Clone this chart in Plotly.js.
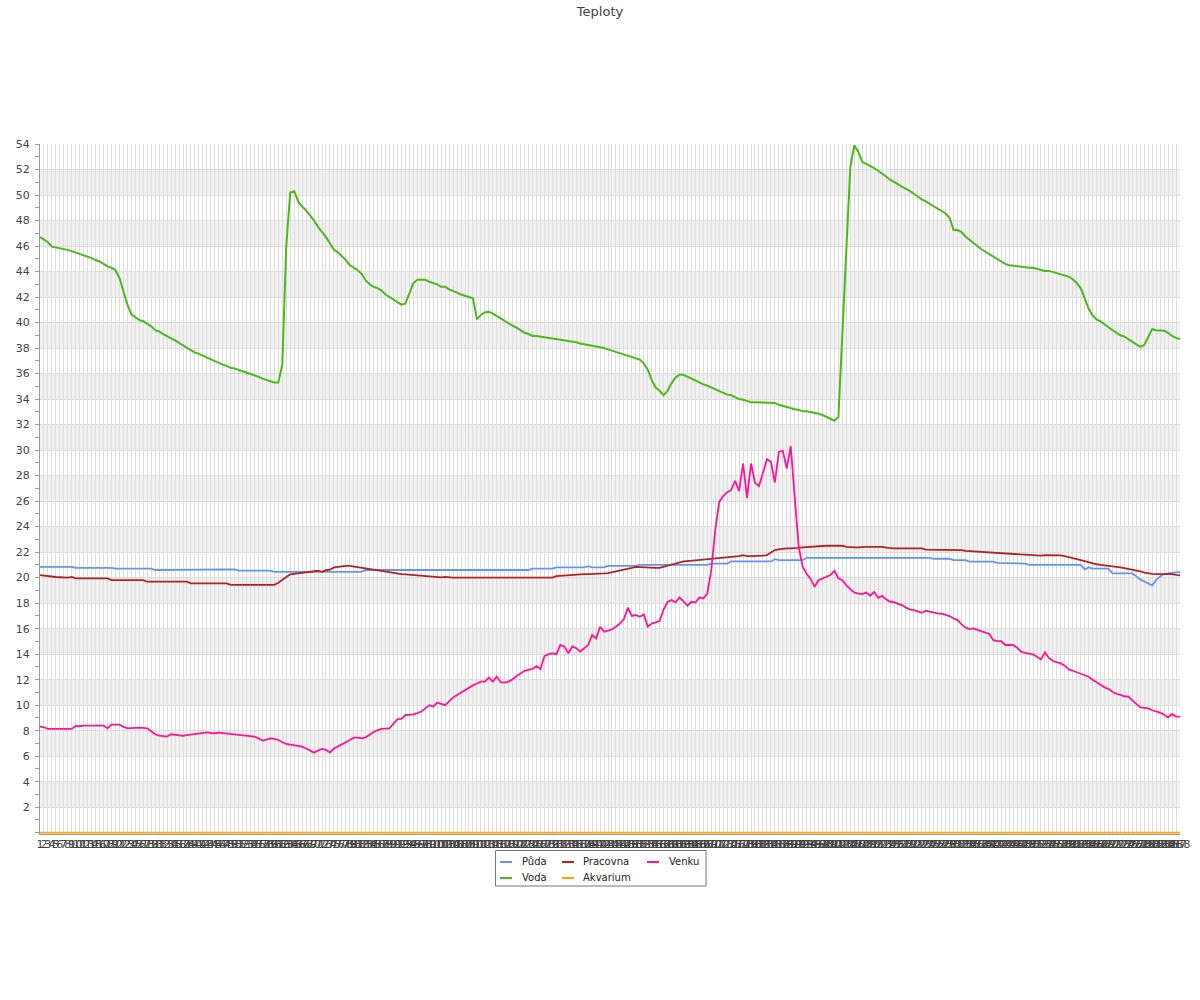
<!DOCTYPE html>
<html>
<head>
<meta charset="utf-8">
<script src="https://cdn.plot.ly/plotly-3.0.1.min.js"></script>
<style>html,body{margin:0;padding:0;background:#fff}#chart{width:1200px;height:1000px}</style>
</head>
<body>
<div id="chart"></div>
<script>
// ---- categories (x tick labels) ----
const categories = [
1,2,3,4,5,6,7,8,9,10,11,12,13,14,15,16,17,18,19,20,
21,22,23,24,25,26,27,28,29,30,31,32,33,34,35,36,37,38,39,40,
41,42,43,44,45,46,47,48,49,50,51,52,53,54,55,56,57,58,59,60,
61,62,63,64,65,66,67,68,69,70,71,72,73,74,75,76,77,78,79,80,
81,82,83,84,85,86,87,88,89,90,91,92,93,94,95,96,97,98,99,100,
101,102,103,104,105,106,107,108,109,110,111,112,113,114,115,116,117,118,119,120,
121,122,123,124,125,126,127,128,129,130,131,132,133,134,135,136,137,138,139,140,
141,142,143,144,145,146,147,148,149,150,151,152,153,154,155,156,157,158,159,160,
161,162,163,164,165,166,167,168,169,170,171,172,173,174,175,176,177,178,179,180,
181,182,183,184,185,186,187,188,189,190,191,192,193,194,195,196,197,198,199,200,
201,202,203,204,205,206,207,208,209,210,211,212,213,214,215,216,217,218,219,220,
221,222,223,224,225,226,227,228,229,230,231,232,233,234,235,236,237,238,239,240,
241,242,243,244,245,246,247,248,249,250,251,252,253,254,255,256,257,258,259,260,
261,262,263,264,265,266,267,268,269,270,271,272,273,274,275,276,277,278,279,280,
281,282,283,284,285,286,287,288
].map(String);

// ---- series ----
const puda = [
20.85,20.85,20.85,20.85,20.85,20.85,20.85,20.85,20.85,20.77,
20.77,20.77,20.77,20.77,20.77,20.77,20.77,20.77,20.77,20.7,
20.7,20.7,20.7,20.7,20.7,20.7,20.7,20.7,20.7,20.6,
20.6,20.6,20.6,20.6,20.6,20.6,20.6,20.6,20.6,20.6,
20.6,20.6,20.6,20.6,20.6,20.6,20.6,20.6,20.6,20.65,
20.55,20.55,20.55,20.55,20.55,20.55,20.55,20.55,20.55,20.45,
20.45,20.45,20.45,20.45,20.45,20.45,20.45,20.45,20.45,20.45,
20.45,20.45,20.45,20.45,20.45,20.45,20.45,20.45,20.45,20.45,
20.45,20.45,20.6,20.6,20.6,20.6,20.6,20.6,20.6,20.6,
20.6,20.6,20.6,20.6,20.6,20.6,20.6,20.6,20.6,20.6,
20.6,20.6,20.6,20.6,20.6,20.6,20.6,20.6,20.6,20.6,
20.6,20.6,20.6,20.6,20.6,20.6,20.6,20.6,20.6,20.6,
20.6,20.6,20.6,20.6,20.7,20.7,20.7,20.7,20.7,20.7,
20.8,20.8,20.8,20.8,20.8,20.8,20.8,20.8,20.9,20.8,
20.8,20.8,20.8,20.92,20.92,20.92,20.92,20.92,20.92,20.92,
20.92,21.0,21.0,21.0,21.0,21.0,21.0,21.0,21.0,21.0,
21.0,21.0,21.0,21.0,21.0,21.0,21.0,21.0,21.0,21.1,
21.1,21.1,21.1,21.1,21.27,21.27,21.27,21.27,21.27,21.27,
21.27,21.27,21.27,21.27,21.27,21.45,21.37,21.37,21.37,21.37,
21.37,21.37,21.37,21.55,21.55,21.55,21.55,21.55,21.55,21.55,
21.55,21.55,21.55,21.55,21.55,21.55,21.55,21.55,21.55,21.55,
21.55,21.55,21.55,21.55,21.55,21.55,21.55,21.55,21.55,21.55,
21.55,21.55,21.55,21.55,21.55,21.48,21.48,21.48,21.53,21.48,
21.37,21.37,21.37,21.37,21.25,21.25,21.25,21.25,21.25,21.25,
21.25,21.15,21.15,21.15,21.15,21.1,21.1,21.1,21.1,21.0,
21.0,21.0,21.0,21.0,21.0,21.0,21.0,21.0,21.0,21.0,
21.0,21.0,21.0,20.65,20.8,20.7,20.7,20.7,20.7,20.7,
20.33,20.33,20.33,20.33,20.33,20.33,20.1,19.85,19.7,19.55,
19.4,19.8,20.1,20.3,20.35,20.4,20.4,20.45
];

const voda = [
46.7,46.5,46.3,45.95,45.9,45.8,45.75,45.7,45.6,45.5,
45.4,45.3,45.2,45.05,44.9,44.8,44.6,44.4,44.3,44.1,
43.5,42.4,41.4,40.65,40.4,40.2,40.1,39.9,39.7,39.4,
39.3,39.1,38.95,38.75,38.6,38.4,38.2,38.0,37.8,37.65,
37.55,37.4,37.25,37.1,36.95,36.8,36.7,36.6,36.45,36.4,
36.3,36.2,36.05,35.95,35.85,35.75,35.6,35.5,35.45,35.3,
35.3,36.7,46.0,50.2,50.3,49.5,49.1,48.8,48.4,48.0,
47.5,47.1,46.7,46.2,45.7,45.5,45.2,44.9,44.5,44.3,
44.1,43.8,43.3,43.0,42.8,42.7,42.5,42.2,42.0,41.85,
41.6,41.4,41.5,42.3,43.1,43.35,43.35,43.35,43.2,43.1,
43.0,42.8,42.8,42.6,42.5,42.35,42.2,42.1,42.0,41.9,
40.25,40.6,40.8,40.85,40.7,40.5,40.35,40.15,39.95,39.75,
39.6,39.4,39.2,39.1,38.95,38.95,38.9,38.85,38.8,38.8,
38.75,38.7,38.65,38.55,38.5,38.45,38.35,38.3,38.2,38.15,
38.1,38.05,38.0,37.9,37.8,37.7,37.65,37.5,37.45,37.3,
37.2,37.1,36.8,36.3,35.5,34.9,34.65,34.3,34.65,35.25,
35.7,35.9,35.9,35.75,35.6,35.45,35.25,35.15,35.05,34.9,
34.75,34.6,34.45,34.35,34.3,34.15,34.0,33.95,33.85,33.75,
33.75,33.75,33.75,33.75,33.75,33.7,33.55,33.45,33.35,33.3,
33.2,33.15,33.05,33.05,33.0,32.95,32.85,32.75,32.6,32.45,
32.3,32.6,39.1,45.7,52.2,53.9,53.4,52.6,52.45,52.3,
52.1,51.9,51.7,51.45,51.2,51.05,50.85,50.65,50.5,50.3,
50.1,49.85,49.65,49.5,49.3,49.1,48.9,48.7,48.55,48.2,
47.25,47.25,47.1,46.75,46.5,46.2,45.95,45.75,45.55,45.35,
45.15,44.95,44.75,44.6,44.5,44.45,44.4,44.35,44.3,44.3,
44.3,44.2,44.1,44.05,44.05,43.95,43.85,43.75,43.7,43.6,
43.4,43.1,42.7,41.9,41.1,40.55,40.25,40.1,39.85,39.6,
39.4,39.2,39.0,38.9,38.7,38.55,38.3,38.1,38.25,38.9,
39.5,39.4,39.35,39.35,39.2,38.95,38.8,38.7
];

const pracovna = [
20.2,20.15,20.1,20.07,20.05,20.03,20.0,20.0,20.05,19.95,
19.94,19.94,19.94,19.94,19.94,19.94,19.94,19.94,19.8,19.8,
19.8,19.8,19.8,19.8,19.8,19.8,19.8,19.68,19.68,19.68,
19.68,19.68,19.68,19.68,19.68,19.68,19.68,19.68,19.55,19.55,
19.55,19.55,19.55,19.55,19.55,19.55,19.55,19.55,19.44,19.44,
19.44,19.44,19.44,19.44,19.44,19.44,19.44,19.44,19.44,19.44,
19.6,19.86,20.05,20.25,20.3,20.35,20.4,20.42,20.45,20.5,
20.54,20.45,20.58,20.62,20.8,20.85,20.9,20.93,20.93,20.88,
20.8,20.75,20.7,20.64,20.6,20.55,20.5,20.46,20.42,20.38,
20.33,20.28,20.25,20.22,20.2,20.17,20.14,20.12,20.1,20.07,
20.05,20.02,20.06,20.0,20.0,20.0,20.0,20.0,20.0,20.0,
20.0,20.0,20.0,20.0,20.0,20.0,20.0,20.0,20.0,20.0,
20.0,20.0,20.0,20.0,20.0,20.0,20.0,20.0,20.0,20.0,
20.12,20.15,20.18,20.2,20.22,20.24,20.26,20.28,20.28,20.28,
20.28,20.28,20.33,20.36,20.42,20.48,20.55,20.62,20.7,20.77,
20.85,20.83,20.8,20.77,20.77,20.77,20.77,20.85,20.95,21.05,
21.15,21.22,21.27,21.3,21.33,21.37,21.4,21.44,21.48,21.53,
21.55,21.58,21.6,21.62,21.64,21.66,21.68,21.77,21.69,21.69,
21.69,21.69,21.72,21.77,21.95,22.16,22.22,22.27,22.29,22.3,
22.3,22.33,22.37,22.4,22.43,22.46,22.48,22.5,22.5,22.5,
22.5,22.5,22.5,22.42,22.37,22.37,22.37,22.42,22.42,22.42,
22.42,22.42,22.42,22.35,22.29,22.29,22.29,22.29,22.29,22.29,
22.29,22.29,22.29,22.2,22.2,22.2,22.2,22.2,22.2,22.2,
22.2,22.2,22.15,22.1,22.08,22.06,22.04,22.02,22.0,21.97,
21.95,21.93,21.92,21.9,21.88,21.86,21.85,21.84,21.82,21.8,
21.78,21.77,21.72,21.76,21.76,21.75,21.74,21.74,21.68,21.62,
21.56,21.47,21.38,21.3,21.2,21.12,21.05,21.0,20.97,20.93,
20.88,20.84,20.8,20.75,20.7,20.65,20.6,20.5,20.4,20.33,
20.3,20.28,20.28,20.28,20.28,20.28,20.22,20.17
];

const akvarium = [
0,0,0,0,0,0,0,0,0,0, 0,0,0,0,0,0,0,0,0,0, 0,0,0,0,0,0,0,0,0,0,
0,0,0,0,0,0,0,0,0,0, 0,0,0,0,0,0,0,0,0,0, 0,0,0,0,0,0,0,0,0,0,
0,0,0,0,0,0,0,0,0,0, 0,0,0,0,0,0,0,0,0,0, 0,0,0,0,0,0,0,0,0,0,
0,0,0,0,0,0,0,0,0,0, 0,0,0,0,0,0,0,0,0,0, 0,0,0,0,0,0,0,0,0,0,
0,0,0,0,0,0,0,0,0,0, 0,0,0,0,0,0,0,0,0,0, 0,0,0,0,0,0,0,0,0,0,
0,0,0,0,0,0,0,0,0,0, 0,0,0,0,0,0,0,0,0,0, 0,0,0,0,0,0,0,0,0,0,
0,0,0,0,0,0,0,0,0,0, 0,0,0,0,0,0,0,0,0,0, 0,0,0,0,0,0,0,0,0,0,
0,0,0,0,0,0,0,0,0,0, 0,0,0,0,0,0,0,0,0,0, 0,0,0,0,0,0,0,0,0,0,
0,0,0,0,0,0,0,0,0,0, 0,0,0,0,0,0,0,0,0,0, 0,0,0,0,0,0,0,0,0,0,
0,0,0,0,0,0,0,0,0,0, 0,0,0,0,0,0,0,0
];

const venku = [
8.32,8.27,8.14,8.14,8.14,8.14,8.14,8.14,8.14,8.37,
8.35,8.4,8.4,8.4,8.4,8.4,8.4,8.19,8.47,8.47,
8.47,8.3,8.19,8.2,8.24,8.24,8.22,8.19,7.95,7.72,
7.62,7.56,7.54,7.72,7.7,7.65,7.6,7.65,7.7,7.75,
7.8,7.84,7.87,7.82,7.8,7.85,7.82,7.78,7.74,7.72,
7.7,7.67,7.63,7.58,7.54,7.4,7.22,7.3,7.4,7.35,
7.27,7.1,6.96,6.9,6.83,6.8,6.75,6.6,6.45,6.28,
6.45,6.57,6.49,6.28,6.6,6.8,6.93,7.1,7.3,7.45,
7.46,7.4,7.48,7.7,7.9,8.05,8.14,8.16,8.19,8.55,
8.9,8.93,9.23,9.25,9.28,9.38,9.5,9.75,10.0,9.89,
10.2,10.1,10.0,10.3,10.6,10.8,11.0,11.2,11.4,11.55,
11.7,11.84,11.84,12.16,11.85,12.23,11.8,11.77,11.85,12.03,
12.29,12.5,12.7,12.77,12.84,13.07,12.84,13.85,14.0,14.06,
14.0,14.72,14.6,14.06,14.6,14.46,14.2,14.46,14.72,15.5,
15.24,16.15,15.76,15.85,15.95,16.15,16.4,16.75,17.64,17.0,
17.07,16.93,17.12,16.15,16.4,16.5,16.62,17.5,18.1,18.24,
18.06,18.45,18.1,17.8,18.11,18.05,18.45,18.37,18.76,20.6,
23.72,25.94,26.4,26.7,26.86,27.59,26.78,28.95,26.26,28.95,
27.43,27.17,28.2,29.28,29.08,27.46,29.86,29.94,28.55,30.3,
26.33,22.42,20.85,20.3,19.9,19.28,19.8,19.95,20.07,20.2,
20.54,19.94,19.8,19.4,19.1,18.84,18.75,18.71,18.84,18.58,
18.89,18.42,18.58,18.3,18.11,18.08,17.95,17.85,17.65,17.51,
17.45,17.38,17.25,17.4,17.32,17.25,17.2,17.17,17.05,16.99,
16.8,16.67,16.33,16.1,15.97,16.02,15.9,15.81,15.7,15.58,
15.1,15.03,15.03,14.72,14.72,14.72,14.5,14.2,14.1,14.05,
13.98,13.8,13.59,14.14,13.7,13.46,13.35,13.28,13.1,12.81,
12.7,12.57,12.45,12.3,12.23,12.0,11.77,11.6,11.4,11.27,
11.05,10.88,10.8,10.7,10.67,10.36,10.1,9.83,9.8,9.75,
9.6,9.5,9.42,9.25,9.05,9.31,9.1,9.1
];

const seriesNames = ['Půda', 'Voda', 'Pracovna', 'Akvarium', 'Venku'];
const yTickValues = [2,4,6,8,10,12,14,16,18,20,22,24,26,28,30,32,34,36,38,40,42,44,46,48,50,52,54];

// ---- styling ----
const colors = {
  'Půda': '#6495ed',
  'Voda': '#4cb81a',
  'Pracovna': '#b22222',
  'Akvarium': '#ffa500',
  'Venku': '#ff1493'
};
const seriesData = {'Půda':puda,'Voda':voda,'Pracovna':pracovna,'Akvarium':akvarium,'Venku':venku};

const traces = seriesNames.map(name => ({
  type: 'scatter',
  mode: 'lines',
  name: name,
  x: categories,
  y: seriesData[name],
  line: {color: colors[name], width: name === 'Voda' ? 2 : 1.8},
  cliponaxis: false,
  hoverinfo: 'skip',
  showlegend: false
}));

// plot-area geometry (pixels) used to place the legend box
const PL = 40, PW = 1140, PB = 834, PH = 690;
const px = X => (X - PL) / PW;
const py = Y => (PB - Y) / PH;

// alternating horizontal bands
const shapes = [];
for (let v = 2; v < 52; v += 4) {
  shapes.push({type:'rect', layer:'below', xref:'paper', x0:0, x1:1, yref:'y', y0:v, y1:v+2,
               fillcolor:'#f2f2f2', line:{width:0}});
}

// legend (3-column table: Půda/Voda | Pracovna/Akvarium | Venku)
const legendPos = {
  'Půda':     {sx: 500, tx: 520, row: 0},
  'Pracovna': {sx: 562, tx: 581, row: 0},
  'Venku':    {sx: 647, tx: 667, row: 0},
  'Voda':     {sx: 500, tx: 520, row: 1},
  'Akvarium': {sx: 562, tx: 581, row: 1}
};
const rowY = [861, 877];
shapes.push({type:'rect', xref:'paper', yref:'paper', x0:px(495.5), x1:px(706), y0:py(886), y1:py(850.5),
             fillcolor:'rgba(255,255,255,0)', line:{color:'#777', width:1}});
const annotations = [];
seriesNames.forEach(name => {
  const p = legendPos[name];
  const y = rowY[p.row];
  shapes.push({type:'line', xref:'paper', yref:'paper', x0:px(p.sx), x1:px(p.sx + 12), y0:py(y + 1), y1:py(y + 1),
               line:{color: colors[name], width: 2}});
  annotations.push({xref:'paper', yref:'paper', x:px(p.tx), y:py(y), xanchor:'left', yanchor:'middle',
                    text: name, showarrow:false, font:{size:10, color:'#222', family:'DejaVu Sans, sans-serif'}});
});

const layout = {
  width: 1200, height: 1000,
  margin: {l: 40, r: 20, t: 144, b: 166, pad: 0},
  paper_bgcolor: '#ffffff', plot_bgcolor: '#ffffff',
  font: {family: 'DejaVu Sans, sans-serif', size: 11, color: '#444'},
  title: {text: 'Teploty', font: {size: 13, color: '#444', family: 'DejaVu Sans, sans-serif'},
          x: 0.5, xref: 'container', xanchor: 'center', y: 0.989, yref: 'container', yanchor: 'middle'},
  xaxis: {
    type: 'category', range: [0, 287], tickmode: 'linear', tick0: 0, dtick: 1, tickangle: 0,
    showgrid: true, gridcolor: '#dddddd', gridwidth: 1,
    showline: true, linecolor: '#999', ticks: '', zeroline: false,
    tickfont: {size: 11, color: '#444'}, fixedrange: true
  },
  yaxis: {
    range: [-0.1, 54], tickmode: 'array', tickvals: yTickValues,
    showgrid: true, gridcolor: '#dddddd', gridwidth: 1,
    showline: true, linecolor: '#999', zeroline: false,
    ticks: 'outside', ticklen: 4, tickcolor: '#999', ticklabelstandoff: 3,
    minor: {tickmode: 'linear', tick0: 0, dtick: 1, ticks: 'outside', ticklen: 4, tickcolor: '#999', showgrid: false},
    tickfont: {size: 11, color: '#444'}, fixedrange: true
  },
  showlegend: false,
  shapes: shapes,
  annotations: annotations
};

Plotly.newPlot('chart', traces, layout, {displayModeBar: false, staticPlot: true});
</script>
</body>
</html>
